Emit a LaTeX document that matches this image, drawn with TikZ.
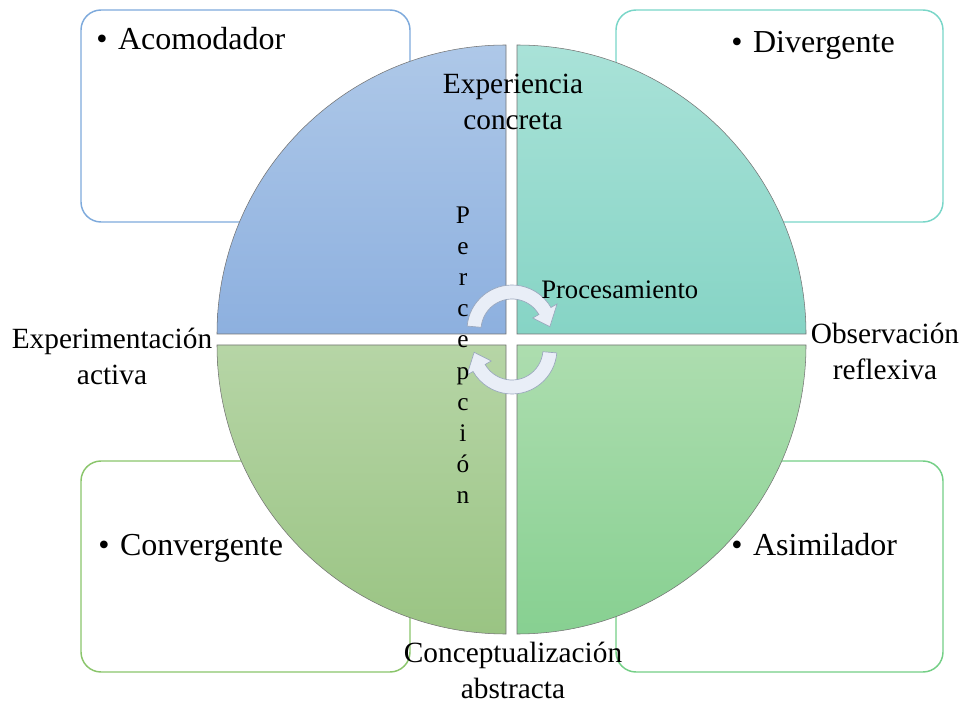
\documentclass[tikz,border=0pt]{standalone}
\usepackage{fontspec}
\setmainfont{Liberation Serif}
\usetikzlibrary{positioning}
\definecolor{tlTop}{HTML}{AEC8E8}
\definecolor{tlBot}{HTML}{8DB0DF}
\definecolor{trTop}{HTML}{A9E2D8}
\definecolor{trBot}{HTML}{86D4C5}
\definecolor{blTop}{HTML}{B6D5A6}
\definecolor{blBot}{HTML}{9AC483}
\definecolor{brTop}{HTML}{ADDDAF}
\definecolor{brBot}{HTML}{87D091}
\definecolor{tlLine}{HTML}{7EAADC}
\definecolor{trLine}{HTML}{79D6C8}
\definecolor{blLine}{HTML}{8AC56B}
\definecolor{brLine}{HTML}{74CF86}
\definecolor{turnFill}{HTML}{E9EEF7}
\definecolor{turnLine}{HTML}{9AA7BD}
\tikzset{
 box/.style
  = {fill=white, rounded corners=15pt, line width=1.1pt},
 quad/.style
  = {draw=black!55, line width=0.4pt},
 lbl/.style
  = {align=center, inner sep=0pt, font=\fontsize{22}{27}\selectfont},
 item/.style
  = {anchor=base west, inner sep=0pt, font=\fontsize{24}{28}\selectfont},
 letter/.style
  = {anchor=base, inner sep=0pt, font=\fontsize{19}{22}\selectfont},
 turn/.style
  = {fill=turnFill, draw=turnLine, line width=0.5pt},
}

\begin{document}
\begin{tikzpicture}[x=0.75pt, y=0.75pt]
\useasboundingbox (0,0) rectangle (963,704);

% Style boxes
\draw[box, draw=tlLine] (81,482) rectangle (410,694);
\draw[box, draw=trLine] (616,482) rectangle (943,694);
\draw[box, draw=blLine] (81,32) rectangle (410,243);
\draw[box, draw=brLine] (616,32) rectangle (943,243);

% Quadrants
\shadedraw[quad, top color=tlTop, bottom color=tlBot] (506,370) -- (217,370) arc (180:90:289) -- cycle;
\shadedraw[quad, top color=trTop, bottom color=trBot] (517,370) -- (517,659) arc (90:0:289) -- cycle;
\shadedraw[quad, top color=blTop, bottom color=blBot] (506,359) -- (217,359) arc (180:270:289) -- cycle;
\shadedraw[quad, top color=brTop, bottom color=brBot] (517,359) -- (806,359) arc (0:-90:289) -- cycle;

% Style names
\node[item] (acom) at (96,654) {\textbullet\hspace{8pt}Acomodador};
\node[item] (dive) at (731,651) {\textbullet\hspace{8pt}Divergente};
\node[item] (conv) at (98,149) {\textbullet\hspace{8pt}Convergente};
\node[item] (asim) at (731,149) {\textbullet\hspace{8pt}Asimilador};

% Axis labels
\node[lbl] (exp) at (513,602) {Experiencia\\concreta};
\node[lbl] (act) at (112,348) {Experimentación\\activa};
\node[lbl] (obs) at (885,353) {Observación\\reflexiva};
\node[lbl] (abs) at (513,34) {Conceptualización\\abstracta};

% Turning arrows
\coordinate (tc) at (512,374);
\coordinate (bc) at (512,355);
\draw[turn] ([shift={(175:45)}]tc) arc (175:30:45) -- ([shift={(30:52)}]tc)
  -- ([shift={(5:38)}]tc) -- ([shift={(30:24)}]tc) -- ([shift={(30:31)}]tc)
  arc (30:175:31) -- cycle;
\draw[turn] ([shift={(-5:45)}]bc) arc (-5:-150:45) -- ([shift={(-150:52)}]bc)
  -- ([shift={(-175:38)}]bc) -- ([shift={(-150:24)}]bc) -- ([shift={(-150:31)}]bc)
  arc (-150:-5:31) -- cycle;

\node[anchor=base west, inner sep=0pt, font=\fontsize{20}{24}\selectfont] (proc) at (541,405) {Procesamiento};

% Percepcion, one letter per line
\foreach \ch [count=\i] in {P,e,r,c,e,p,c,i,ó,n}
  \node[letter] (per\i) at (463,511-31*\i) {\ch};

\end{tikzpicture}
\end{document}
